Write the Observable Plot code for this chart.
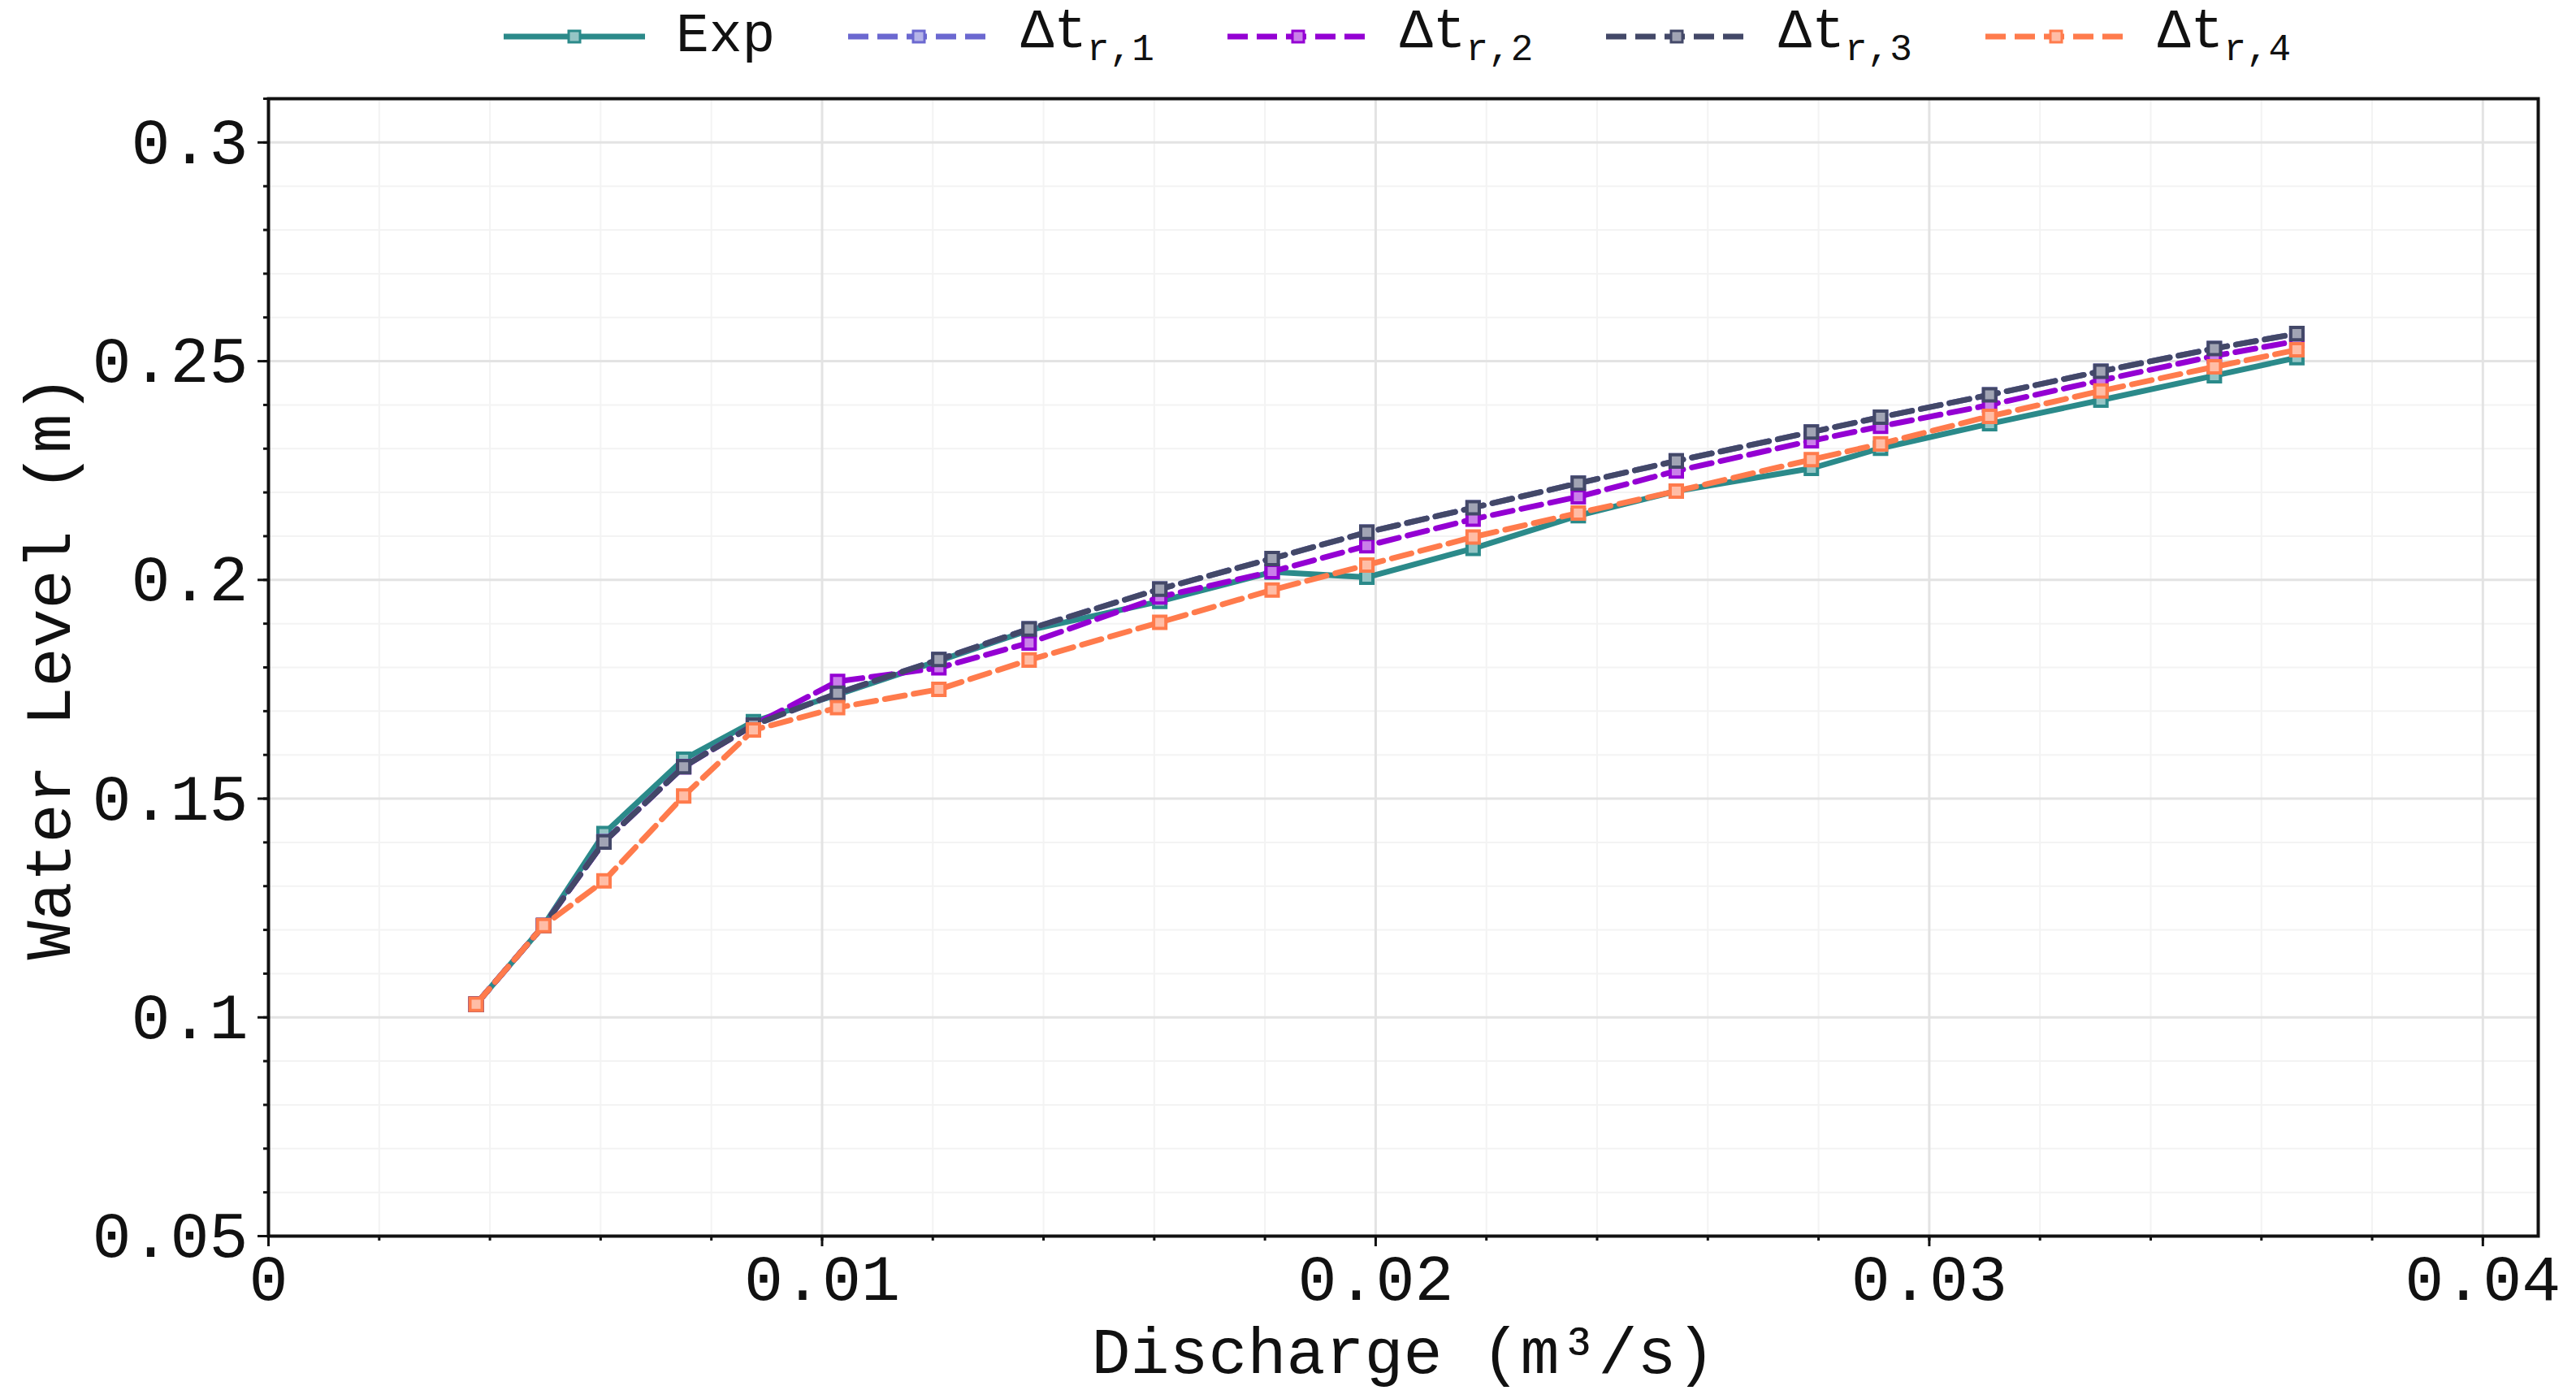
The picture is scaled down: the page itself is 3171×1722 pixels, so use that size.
<!DOCTYPE html>
<html><head><meta charset="utf-8">
<script src="https://cdn.jsdelivr.net/npm/d3@7"></script>
<script src="https://cdn.jsdelivr.net/npm/@observablehq/plot@0.6"></script>
<style>
body{margin:0;background:#fff;font-family:"Liberation Mono",monospace;}
#legend{position:relative;width:3171px;height:100px;}
#legend .row{position:absolute;left:620px;top:0;height:90px;display:flex;align-items:center;}
.item{display:flex;align-items:center;margin-right:90px;}
.item span{font-size:68px;color:#111;margin-left:38px;white-space:nowrap;line-height:1;}
.item sub{font-size:46px;vertical-align:-16px;}
</style></head>
<body><div id="legend"><div class="row" id="legendRow"></div></div><div id="chart"></div>
<script>
// Discharge (m3/s)
const discharge = [0.00375, 0.00497, 0.00606, 0.0075, 0.00876, 0.01028, 0.01211, 0.01374, 0.0161, 0.01813, 0.01984, 0.02176, 0.02366, 0.02543, 0.02787, 0.02912, 0.03109, 0.0331, 0.03515, 0.03664];
// Water level (m)
const exp = [0.103, 0.121, 0.142, 0.159, 0.1676, 0.1738, 0.1815, 0.1885, 0.1951, 0.2018, 0.2006, 0.2072, 0.2147, 0.2203, 0.2255, 0.2301, 0.2357, 0.2411, 0.2467, 0.2508];
const dt1 = [0.103, 0.121, 0.1401, 0.1573, 0.1668, 0.1741, 0.1818, 0.1888, 0.1979, 0.2049, 0.2109, 0.2165, 0.2221, 0.2272, 0.2338, 0.2372, 0.2423, 0.2477, 0.2529, 0.2563];
const dt2 = [0.103, 0.121, 0.1401, 0.1573, 0.1668, 0.1768, 0.1799, 0.1856, 0.1961, 0.2019, 0.2078, 0.2139, 0.2190, 0.2249, 0.2318, 0.2351, 0.2400, 0.2456, 0.2512, 0.2546];
const dt3 = [0.103, 0.121, 0.1401, 0.1573, 0.1668, 0.1741, 0.1818, 0.1888, 0.1979, 0.2049, 0.2109, 0.2165, 0.2221, 0.2272, 0.2338, 0.2372, 0.2423, 0.2477, 0.2529, 0.2563];
const dt4 = [0.103, 0.121, 0.1312, 0.1506, 0.1657, 0.1708, 0.1750, 0.1817, 0.1903, 0.1977, 0.2034, 0.2098, 0.2153, 0.2203, 0.2275, 0.2311, 0.2374, 0.2432, 0.2487, 0.2526];

const seriesNames = ["Exp", "dt1", "dt2", "dt3", "dt4"];
const seriesLabels = ["Exp", "Δt<sub>r,1</sub>", "Δt<sub>r,2</sub>", "Δt<sub>r,3</sub>", "Δt<sub>r,4</sub>"];
const seriesValues = [exp, dt1, dt2, dt3, dt4];
const seriesColors = ["#2b8a8a", "#6b68d0", "#9400d3", "#434868", "#ff7b4c"];
const seriesDash = [null, "25,11", "25,11", "25,11", "25,11"];

const xTicks = [0, 0.01, 0.02, 0.03, 0.04];
const yTicks = [0.05, 0.1, 0.15, 0.2, 0.25, 0.3];
const xMinor = d3.range(0, 0.0411, 0.002);
const yMinor = d3.range(0.05, 0.3101, 0.01);
const fmt = d => d === 0 ? "0" : String(+d.toFixed(3));

const rows = seriesNames.flatMap((s, k) => discharge.map((q, i) => ({series: s, q, h: seriesValues[k][i]})));

const marks = [
  Plot.gridX(xMinor, {stroke: "#f3f3f3", strokeOpacity: 1, strokeWidth: 2}),
  Plot.gridY(yMinor, {stroke: "#f3f3f3", strokeOpacity: 1, strokeWidth: 2}),
  Plot.gridX(xTicks, {stroke: "#e3e3e3", strokeOpacity: 1, strokeWidth: 3}),
  Plot.gridY(yTicks, {stroke: "#e3e3e3", strokeOpacity: 1, strokeWidth: 3}),
];
seriesNames.forEach((s, k) => {
  const d = rows.filter(r => r.series === s);
  const c = seriesColors[k];
  marks.push(Plot.line(d, {x: "q", y: "h", stroke: c, strokeWidth: 7, strokeDasharray: seriesDash[k] ?? undefined}));
  marks.push(Plot.dot(d, {x: "q", y: "h", symbol: "square", r: 8.5, fill: d3.interpolateRgb(c, "#fff")(0.5), stroke: c, strokeWidth: 4}));
});
marks.push(
  Plot.axisX(xMinor, {tickSize: 6, tickFormat: () => "", strokeWidth: 3, label: null}),
  Plot.axisY(yMinor, {tickSize: 6, tickFormat: () => "", strokeWidth: 3, label: null}),
  Plot.axisX(xTicks, {tickSize: 13, tickPadding: 9, tickFormat: fmt, fontSize: 80, strokeWidth: 3, label: null}),
  Plot.axisY(yTicks, {tickSize: 13, tickPadding: 12, tickFormat: fmt, fontSize: 80, strokeWidth: 3, label: null}),
  Plot.frame({stroke: "#111", strokeWidth: 4}),
  Plot.text(["Water Level (m)"], {frameAnchor: "left", dx: -270, rotate: -90, textAnchor: "middle", lineAnchor: "middle", fontSize: 80, fill: "#111"}),
  Plot.text(["Discharge (m³/s)"], {frameAnchor: "bottom", dy: 143, textAnchor: "middle", lineAnchor: "middle", fontSize: 80, fill: "#111"})
);

const chart = Plot.plot({
  width: 3171,
  height: 1622,
  marginTop: 21,
  marginBottom: 201,
  marginLeft: 330,
  marginRight: 47,
  style: {fontFamily: "Liberation Mono, monospace", fontSize: "80px", color: "#111", background: "#fff"},
  x: {domain: [0, 0.041]},
  y: {domain: [0.05, 0.31]},
  marks
});
document.getElementById("chart").appendChild(chart);

// Legend
const legendRow = document.getElementById("legendRow");
seriesNames.forEach((s, k) => {
  const c = seriesColors[k];
  const item = document.createElement("div");
  item.className = "item";
  const dash = seriesDash[k] ? `stroke-dasharray="${seriesDash[k]}"` : "";
  item.innerHTML = `<svg width="174" height="40"><line x1="0" x2="174" y1="20" y2="20" stroke="${c}" stroke-width="7" ${dash}/>` +
    `<rect x="80" y="13" width="14" height="14" fill="${d3.interpolateRgb(c, "#fff")(0.5)}" stroke="${c}" stroke-width="3"/></svg>` +
    `<span>${seriesLabels[k]}</span>`;
  legendRow.appendChild(item);
});
</script></body></html>
